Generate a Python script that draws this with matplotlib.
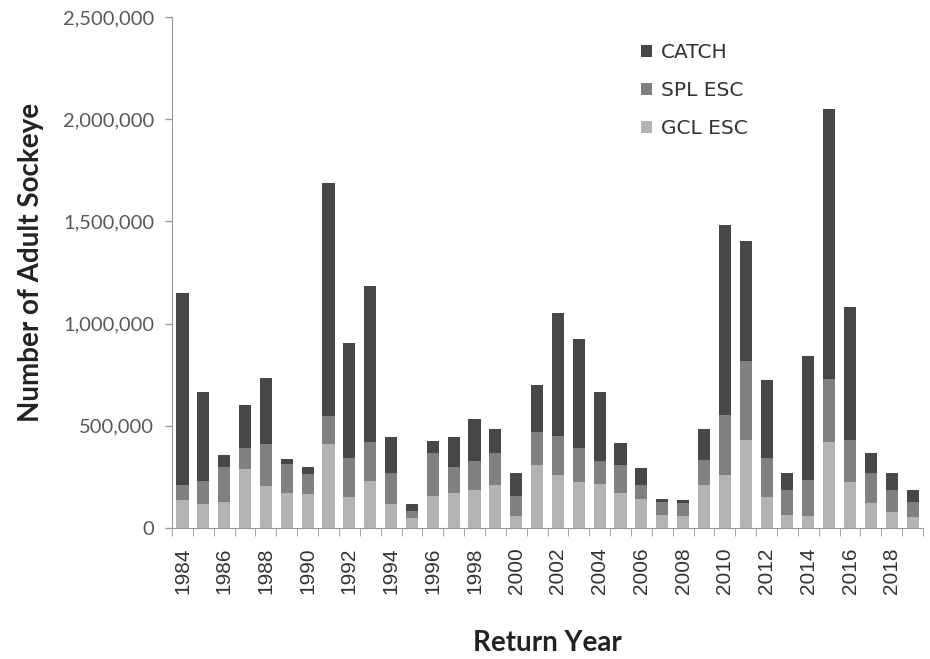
import numpy as np
import matplotlib.pyplot as plt
from matplotlib.ticker import FuncFormatter

# return years and stacked components (cumulative tops converted to layers)
years = list(range(1984, 2020))
gcl_esc = [135, 118, 127, 287, 203, 172, 166, 409, 152, 231, 118, 50,
           157, 171, 186, 208, 56, 309, 258, 225, 216, 169, 140, 64,
           59, 208, 258, 432, 149, 64, 59, 419, 225, 123, 76, 54]
spl_top = [211, 228, 296, 389, 409, 312, 262, 549, 343, 419, 267, 84,
           365, 297, 326, 365, 157, 470, 449, 389, 326, 309, 208, 127,
           122, 334, 554, 816, 343, 186, 233, 728, 432, 267, 186, 128]
total = [1149, 667, 358, 600, 735, 338, 296, 1689, 907, 1182, 443, 118,
         427, 444, 532, 486, 267, 698, 1052, 926, 667, 414, 292, 140,
         135, 486, 1483, 1402, 726, 267, 841, 2049, 1081, 365, 267, 186]

gcl = np.array(gcl_esc) * 1000
spl = (np.array(spl_top) - np.array(gcl_esc)) * 1000
catch = (np.array(total) - np.array(spl_top)) * 1000

fig = plt.figure(figsize=(9.3, 6.59), dpi=100)
ax = fig.add_axes([0.185, 0.199, 0.8075, 0.775])

x = np.arange(len(years))
w = 0.58
ax.bar(x, gcl, w, color="#b3b3b3", label="GCL ESC")
ax.bar(x, spl, w, bottom=gcl, color="#808080", label="SPL ESC")
ax.bar(x, catch, w, bottom=gcl + spl, color="#474747", label="CATCH")

ax.set_xlim(-0.5, len(years) - 0.5)
ax.set_ylim(0, 2500000)
ax.set_yticks(np.arange(0, 2500001, 500000))
ax.yaxis.set_major_formatter(FuncFormatter(lambda v, p: f"{int(v):,}"))
ax.tick_params(axis="y", labelsize=14.5, labelcolor="#595959", color="#999999",
               length=5, width=1, pad=8)
for t in ax.get_yticklabels():
    t.set_family("Lato")

ax.set_xticks(x[::2])
ax.set_xticklabels([str(y) for y in years[::2]], rotation=90,
                   fontsize=15, family="Liberation Sans", color="#333333")
ax.set_xticks(np.arange(-0.5, len(years), 1), minor=True)
ax.tick_params(axis="x", which="major", length=0, pad=14)
ax.tick_params(axis="x", which="minor", length=6, color="#999999")

for s in ["top", "right"]:
    ax.spines[s].set_visible(False)
for s in ["left", "bottom"]:
    ax.spines[s].set_color("#999999")

ax.set_ylabel("Number of Adult Sockeye", fontsize=20, fontweight="bold",
              family="Lato", color="#222222")
ax.yaxis.set_label_coords(-0.17, 0.52)
ax.set_xlabel("Return Year", fontsize=20, fontweight="bold",
              family="Lato", color="#222222")
ax.xaxis.set_label_coords(0.5, -0.2)

h, l = ax.get_legend_handles_labels()
ax.legend(h[::-1], l[::-1], loc="upper left", bbox_to_anchor=(0.6, 0.985),
          frameon=False, fontsize=14.5, handlelength=0.55, handleheight=0.55,
          labelspacing=0.95, handletextpad=0.45, labelcolor="#333333")

fig.savefig("out.png", dpi=100)
